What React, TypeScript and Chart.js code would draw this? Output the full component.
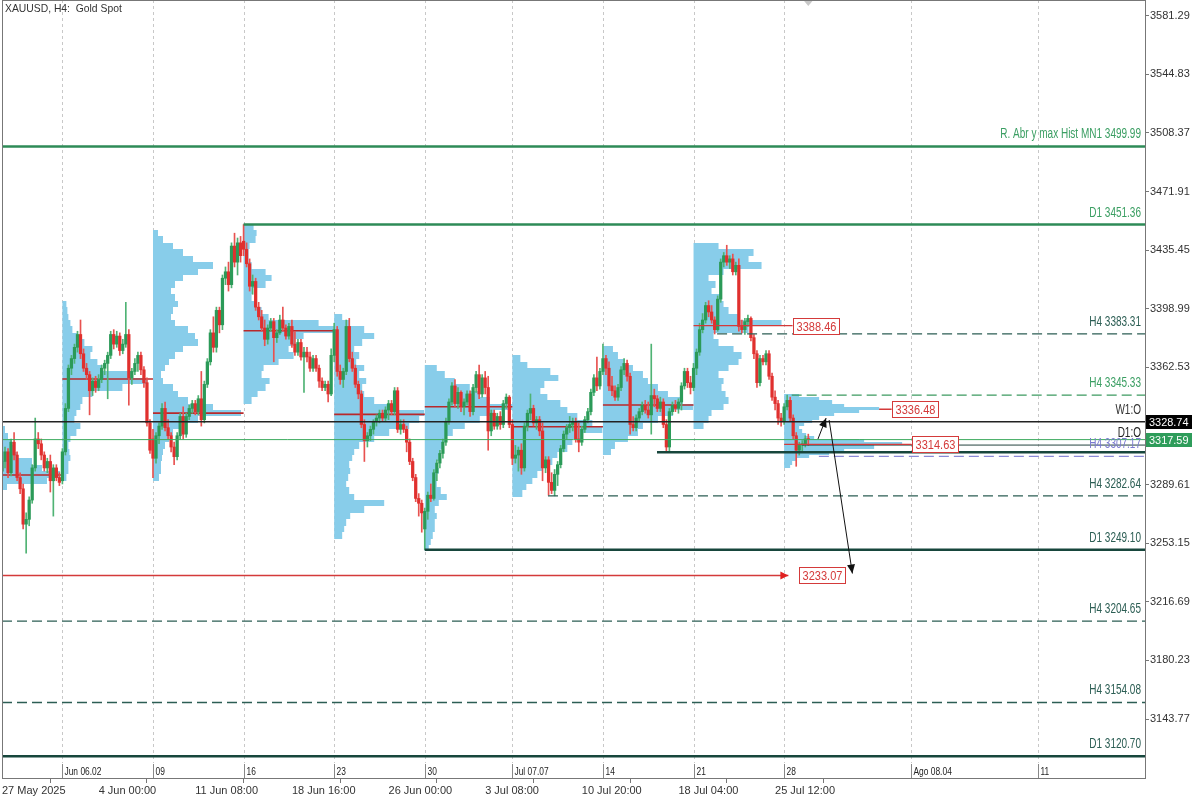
import React, { useEffect, useRef } from "react";
import { Chart, registerables } from "chart.js";

Chart.register(...registerables);

// ---------- H4 candles [open, high, low, close], grouped by trading week ----------
const WEEK1 = [
  [3298, 3306, 3292, 3304], [3304, 3313, 3300, 3310], [3310, 3312, 3294, 3297], [3297, 3318, 3295, 3316],
  [3316, 3322, 3305, 3308], [3308, 3310, 3292, 3294], [3294, 3297, 3284, 3287], [3287, 3290, 3262, 3265],
  [3265, 3272, 3247, 3268], [3268, 3282, 3264, 3280], [3280, 3302, 3278, 3300], [3300, 3331, 3298, 3318],
  [3318, 3322, 3312, 3315], [3315, 3318, 3305, 3308], [3308, 3310, 3298, 3300], [3300, 3306, 3297, 3304],
  [3304, 3308, 3285, 3292], [3292, 3302, 3270, 3300], [3300, 3302, 3292, 3294], [3294, 3297, 3289, 3291],
];
const WEEK2 = [
  [3292, 3312, 3290, 3310], [3310, 3340, 3308, 3337], [3337, 3364, 3335, 3362], [3362, 3370, 3358, 3368],
  [3368, 3377, 3365, 3375], [3375, 3385, 3372, 3383], [3383, 3392, 3368, 3371], [3371, 3374, 3360, 3362],
  [3362, 3365, 3355, 3358], [3358, 3360, 3333, 3348], [3348, 3356, 3345, 3354], [3354, 3357, 3347, 3350],
  [3350, 3358, 3348, 3355], [3355, 3364, 3353, 3362], [3362, 3367, 3358, 3365], [3365, 3372, 3343, 3370],
  [3370, 3385, 3368, 3383], [3383, 3386, 3374, 3377], [3377, 3385, 3375, 3382], [3382, 3384, 3370, 3373],
  [3373, 3380, 3371, 3377], [3377, 3403, 3375, 3383], [3383, 3386, 3339, 3356], [3356, 3362, 3352, 3360],
  [3360, 3368, 3358, 3365], [3365, 3372, 3360, 3370], [3370, 3372, 3358, 3361], [3361, 3363, 3350, 3353],
  [3353, 3356, 3326, 3328], [3328, 3330, 3309, 3311],
];
const WEEK3 = [
  [3318, 3324, 3294, 3306], [3306, 3322, 3303, 3320], [3320, 3328, 3315, 3326], [3326, 3340, 3324, 3337],
  [3337, 3341, 3323, 3325], [3325, 3330, 3318, 3320], [3320, 3322, 3310, 3313], [3313, 3316, 3302, 3307],
  [3307, 3322, 3305, 3320], [3320, 3334, 3318, 3332], [3332, 3338, 3318, 3321], [3321, 3334, 3319, 3332],
  [3332, 3339, 3330, 3337], [3337, 3342, 3334, 3340], [3340, 3342, 3333, 3335], [3335, 3345, 3333, 3343],
  [3343, 3360, 3326, 3330], [3330, 3354, 3328, 3352], [3352, 3368, 3350, 3366], [3366, 3386, 3364, 3384],
  [3384, 3394, 3372, 3375], [3375, 3400, 3372, 3398], [3398, 3400, 3384, 3389], [3389, 3420, 3386, 3418],
  [3418, 3425, 3414, 3422], [3422, 3428, 3410, 3414], [3414, 3440, 3412, 3438], [3438, 3446, 3425, 3428],
  [3428, 3443, 3420, 3440], [3440, 3444, 3428, 3432],
];
const WEEK4 = [
  [3441, 3451.36, 3432, 3436], [3436, 3440, 3425, 3427], [3427, 3430, 3410, 3413], [3413, 3420, 3408, 3416],
  [3416, 3418, 3398, 3400], [3400, 3403, 3392, 3394], [3394, 3398, 3385, 3387], [3387, 3392, 3376, 3380],
  [3380, 3389, 3377, 3387], [3387, 3393, 3385, 3391], [3391, 3393, 3366, 3381], [3381, 3386, 3378, 3384],
  [3384, 3395, 3383, 3392], [3392, 3400, 3385, 3387], [3387, 3389, 3380, 3382], [3382, 3390, 3380, 3388],
  [3388, 3392, 3375, 3377], [3377, 3385, 3370, 3372], [3372, 3380, 3370, 3378], [3378, 3380, 3367, 3369],
  [3369, 3375, 3347, 3372], [3372, 3375, 3366, 3369], [3369, 3372, 3360, 3362], [3362, 3370, 3360, 3368],
  [3368, 3370, 3360, 3362], [3362, 3364, 3350, 3354], [3354, 3356, 3348, 3350], [3350, 3354, 3348, 3352],
  [3352, 3354, 3341, 3346], [3346, 3374, 3345, 3370],
];
const WEEK5 = [
  [3370, 3390, 3366, 3386], [3386, 3388, 3357, 3360], [3360, 3364, 3352, 3355], [3355, 3362, 3350, 3360],
  [3360, 3392, 3358, 3388], [3388, 3393, 3366, 3368], [3368, 3372, 3360, 3362], [3362, 3364, 3350, 3352],
  [3352, 3354, 3343, 3346], [3346, 3348, 3325, 3327], [3327, 3330, 3304, 3317], [3317, 3322, 3313, 3320],
  [3320, 3326, 3317, 3324], [3324, 3330, 3321, 3329], [3329, 3333, 3326, 3331], [3331, 3336, 3328, 3334],
  [3334, 3336, 3329, 3331], [3331, 3338, 3329, 3336], [3336, 3342, 3330, 3340], [3340, 3342, 3333, 3335],
  [3335, 3350, 3333, 3348], [3348, 3350, 3322, 3324], [3324, 3330, 3321, 3327], [3327, 3330, 3322, 3324],
  [3324, 3326, 3310, 3316], [3316, 3318, 3302, 3304], [3304, 3306, 3292, 3294], [3294, 3296, 3279, 3281],
  [3281, 3284, 3270, 3278], [3278, 3280, 3260, 3272],
];
const WEEK6 = [
  [3262, 3275, 3249.1, 3273], [3273, 3285, 3268, 3283], [3283, 3290, 3279, 3281], [3281, 3299, 3280, 3297],
  [3297, 3305, 3292, 3303], [3303, 3311, 3300, 3309], [3309, 3318, 3306, 3316], [3316, 3331, 3314, 3329],
  [3329, 3343, 3327, 3341], [3341, 3353, 3339, 3351], [3351, 3355, 3338, 3340], [3340, 3350, 3337, 3347],
  [3347, 3348, 3335, 3338], [3338, 3343, 3333, 3341], [3341, 3348, 3339, 3346], [3346, 3348, 3332, 3335],
  [3335, 3352, 3333, 3350], [3350, 3360, 3347, 3358], [3358, 3364, 3343, 3346], [3346, 3358, 3344, 3356],
  [3356, 3360, 3346, 3350], [3350, 3357, 3311, 3323], [3323, 3336, 3320, 3334], [3334, 3336, 3324, 3326],
  [3326, 3334, 3324, 3332], [3332, 3335, 3324, 3327], [3327, 3342, 3325, 3340], [3340, 3346, 3337, 3344],
  [3344, 3345, 3325, 3327],
];
const WEEK7 = [
  [3327, 3330, 3302, 3306], [3306, 3314, 3303, 3308], [3308, 3313, 3298, 3311], [3311, 3315, 3296, 3300],
  [3300, 3328, 3298, 3326], [3326, 3336, 3323, 3334], [3334, 3346, 3330, 3337], [3337, 3339, 3326, 3328],
  [3328, 3332, 3324, 3330], [3330, 3332, 3320, 3323], [3323, 3328, 3292, 3300], [3300, 3307, 3297, 3305],
  [3305, 3307, 3283, 3291], [3291, 3297, 3284, 3286], [3286, 3299, 3282.64, 3296], [3296, 3304, 3289, 3302],
  [3302, 3314, 3300, 3312], [3312, 3323, 3310, 3321], [3321, 3327, 3318, 3325], [3325, 3332, 3322, 3327],
  [3327, 3331, 3323, 3329], [3329, 3331, 3316, 3318], [3318, 3328, 3310, 3316], [3316, 3326, 3314, 3324],
  [3324, 3332, 3322, 3330], [3330, 3337, 3328, 3335], [3335, 3349, 3333, 3347], [3347, 3358, 3345, 3356],
  [3356, 3369, 3348, 3351], [3351, 3362, 3349, 3360],
];
const WEEK8 = [
  [3360, 3377, 3358, 3368], [3368, 3370, 3358, 3362], [3362, 3366, 3348, 3351], [3351, 3357, 3345, 3348],
  [3348, 3351, 3342, 3344], [3344, 3352, 3342, 3350], [3350, 3363, 3348, 3361], [3361, 3368, 3358, 3365],
  [3365, 3367, 3354, 3357], [3357, 3359, 3321, 3327], [3327, 3332, 3323, 3325], [3325, 3333, 3323, 3331],
  [3331, 3337, 3329, 3335], [3335, 3341, 3333, 3339], [3339, 3342, 3334, 3336], [3336, 3341, 3331, 3333],
  [3333, 3377, 3321, 3345], [3345, 3349, 3338, 3343], [3343, 3345, 3335, 3337], [3337, 3344, 3335, 3341],
  [3341, 3343, 3325, 3327], [3327, 3330, 3309.7, 3313], [3313, 3337, 3310, 3335], [3335, 3341, 3333, 3339],
  [3339, 3342, 3335, 3337], [3337, 3343, 3334, 3341], [3341, 3353, 3336, 3351], [3351, 3362, 3349, 3360],
  [3360, 3362, 3350, 3353], [3353, 3357, 3346, 3350],
];
const WEEK9 = [
  [3350, 3365, 3348, 3362], [3362, 3374, 3358, 3372], [3372, 3390, 3370, 3386], [3386, 3396, 3384, 3392],
  [3392, 3403, 3390, 3401], [3401, 3404, 3394, 3397], [3397, 3401, 3390, 3392], [3392, 3394, 3383.31, 3386],
  [3386, 3407, 3385, 3405], [3405, 3430, 3403, 3428], [3428, 3434, 3425, 3432], [3432, 3438.5, 3426, 3428],
  [3428, 3432, 3424, 3430], [3430, 3433, 3420, 3422], [3422, 3428, 3420, 3426], [3426, 3430, 3385, 3388],
  [3388, 3392, 3384, 3386], [3386, 3393, 3383, 3391], [3391, 3395, 3388, 3393], [3393, 3394, 3379, 3381],
  [3381, 3383, 3368, 3371], [3371, 3373, 3350, 3353], [3353, 3370, 3351, 3368], [3368, 3370, 3364, 3366],
  [3366, 3373, 3364, 3371], [3371, 3373, 3355, 3357], [3357, 3359, 3342, 3344], [3344, 3348, 3336, 3340],
  [3340, 3342, 3327, 3331], [3331, 3334, 3326, 3329],
];
const WEEK10 = [
  [3328.74, 3340, 3327, 3338], [3338, 3345.33, 3336, 3342], [3342, 3344, 3329, 3331], [3331, 3333, 3318, 3320],
  [3320, 3322, 3301, 3311], [3311, 3316, 3308, 3314], [3314.2, 3317, 3310, 3315], [3315, 3320, 3313, 3318],
  [3318, 3321, 3314, 3317.59],
];
const WEEKS = [WEEK1, WEEK2, WEEK3, WEEK4, WEEK5, WEEK6, WEEK7, WEEK8, WEEK9, WEEK10];

// ---------- weekly volume profiles (relative volume per price bin) ----------
const PROFILE_START_BAR = [0, 20, 50, 80, 110, 140, 169, 199, 229, 259];
const PROFILE_BASE = [3286, 3292, 3292, 3340, 3256, 3248, 3282, 3308, 3324, 3300];
const PROFILE_STEP = [4, 4, 4, 4, 4, 4, 4, 4, 4, 2];
const VOL1 = [5, 45, 58, 40, 30, 15, 12, 10, 6, 3];
const VOL2 = [4, 6, 6, 8, 7, 6, 8, 14, 18, 12, 14, 18, 20, 30, 60, 85, 70, 40, 35, 28, 30, 22, 15, 10, 8, 6, 5, 4];
const VOL3 = [6, 8, 8, 9, 10, 12, 16, 20, 28, 45, 88, 60, 35, 25, 20, 10, 8, 12, 16, 22, 30, 45, 42, 35, 22, 18, 20, 25, 22, 18, 22, 30, 45, 60, 40, 30, 20, 10, 5];
const VOL4 = [8, 14, 22, 26, 18, 20, 35, 50, 45, 52, 60, 93, 75, 25, 18, 12, 8, 9, 22, 28, 22, 8, 5, 5, 6, 12, 13, 10];
const VOL5 = [8, 10, 12, 16, 30, 50, 20, 15, 12, 14, 16, 15, 18, 20, 25, 40, 55, 75, 85, 90, 60, 40, 30, 28, 32, 25, 30, 22, 25, 20, 28, 40, 30, 15, 8];
const VOL6 = [4, 6, 8, 10, 10, 12, 10, 14, 22, 16, 12, 12, 14, 12, 14, 16, 18, 22, 28, 40, 55, 70, 88, 65, 55, 45, 30, 20, 12];
const VOL7 = [10, 14, 20, 25, 30, 40, 45, 55, 60, 70, 90, 80, 65, 55, 48, 35, 28, 32, 46, 38, 15, 8];
const VOL8 = [8, 12, 25, 35, 40, 55, 70, 90, 80, 65, 55, 45, 40, 30, 22, 15, 10];
const VOL9 = [10, 15, 18, 30, 35, 32, 28, 30, 25, 35, 45, 48, 40, 25, 20, 55, 88, 45, 35, 30, 28, 18, 22, 15, 30, 68, 55, 60, 25];
const VOL10 = [6, 8, 12, 25, 45, 60, 90, 118, 80, 30, 22, 18, 15, 20, 28, 35, 50, 75, 95, 60, 48, 35, 15];
const PROFILE_VOLS = [VOL1, VOL2, VOL3, VOL4, VOL5, VOL6, VOL7, VOL8, VOL9, VOL10];
const POC_PRICE = [3295.6, 3355.3, 3334.1, 3385.3, 3333.3, 3338.0, 3325.6, 3339.1];
const POC_END_BAR = [20, 50, 80, 110, 140, 169, 199, 229];

// ---------- red price tags ----------
const TAG_PRICE = [3388.46, 3336.48, 3314.63, 3233.07];
const TAG_LINE_FROM = [229, 259, 259, 0];
const TAG_LINE_TO = [261.8, 294.6, 301.2, 260.4];
const TAG_BOX_BAR = [261.8, 294.6, 301.2, 264.0];

// ---------- horizontal levels ----------
const LEVEL_PRICE = [3499.99, 3451.36, 3383.31, 3345.33, 3328.74, 3314.2, 3317.59, 3309.7, 3307.17, 3282.64, 3249.1, 3204.65, 3154.08, 3120.7];
const LEVEL_LABEL = ["R. Abr y max Hist MN1 3499.99", "D1 3451.36", "H4 3383.31", "H4 3345.33", "W1:O", "D1:O", "", "", "H4 3307.17", "H4 3282.64", "D1 3249.10", "H4 3204.65", "H4 3154.08", "D1 3120.70"];
const LEVEL_FROM_BAR = [0, 80, 236.8, 261.5, 0, 265, 0, 216.9, 270.5, 180.8, 140, 0, 0, 0];
const LEVEL_KIND = ["mn1", "d1g", "h4t", "h4g", "w1", "d1o", "bid", "d1t", "h4b", "h4t", "d1t", "h4t", "h4t", "d1t"];

// ---------- arrows ----------
const ARROW_FROM_BAR = [270.2, 273.9];
const ARROW_FROM_PRICE = [3317.95, 3329.8];
const ARROW_TO_BAR = [272.9, 281.6];
const ARROW_TO_PRICE = [3331.0, 3234.3];

// ---------- axes ----------
const Y_TICKS = [3143.77, 3180.23, 3216.69, 3253.15, 3289.61, 3326.07, 3362.53, 3398.99, 3435.45, 3471.91, 3508.37, 3544.83, 3581.29];
const LOWER_BARS = [0, 32, 64, 96, 128, 160, 192, 224, 256];
const LOWER_LABELS = ["27 May 2025", "4 Jun 00:00", "11 Jun 08:00", "18 Jun 16:00", "26 Jun 00:00", "3 Jul 08:00", "10 Jul 20:00", "18 Jul 04:00", "25 Jul 12:00"];
const UPPER_BARS = [20, 50, 80, 110, 140, 169, 199, 229, 259, 301, 343];
const UPPER_LABELS = ["Jun 06.02", "09", "16", "23", "30", "Jul 07.07", "14", "21", "28", "Ago 08.04", "11"];
const AXIS_BOX_PRICE = [3328.74, 3317.59];

const FONT = "'Liberation Sans', Arial, sans-serif";
const STYLE: Record<string, { color: string; width: number; dash: number[]; label: string }> = {
  mn1: { color: "#2e8b57", width: 2.5, dash: [], label: "#3a9e62" },
  d1g: { color: "#2e8b57", width: 2.5, dash: [], label: "#3a9e62" },
  h4t: { color: "#2c5e54", width: 1.3, dash: [10, 5], label: "#2c5e54" },
  h4g: { color: "#3c9a60", width: 1.2, dash: [10, 5], label: "#3a9e62" },
  w1: { color: "#222222", width: 1.6, dash: [], label: "#333333" },
  d1o: { color: "#24443e", width: 1, dash: [], label: "#222222" },
  bid: { color: "#3caa5e", width: 1, dash: [], label: "" },
  d1t: { color: "#17463c", width: 2.5, dash: [], label: "#2c5e54" },
  h4b: { color: "#8a8ad6", width: 1.2, dash: [10, 5], label: "#7a7ad0" },
};

function drawText(ctx: CanvasRenderingContext2D, s: string, x: number, y: number, size: number, sx: number, color: string, align: string) {
  ctx.save();
  ctx.font = `${size}px ${FONT}`;
  ctx.fillStyle = color;
  ctx.textBaseline = "alphabetic";
  ctx.textAlign = "left";
  const w = ctx.measureText(s).width * sx;
  const left = align === "right" ? x - w : align === "center" ? x - w / 2 : x;
  ctx.translate(left, y);
  ctx.scale(sx, 1);
  ctx.fillText(s, 0, 0);
  ctx.restore();
  return w;
}

function arrowHead(ctx: CanvasRenderingContext2D, x0: number, y0: number, x1: number, y1: number, len: number, half: number) {
  const a = Math.atan2(y1 - y0, x1 - x0);
  ctx.beginPath();
  ctx.moveTo(x1, y1);
  ctx.lineTo(x1 - len * Math.cos(a) + half * Math.sin(a), y1 - len * Math.sin(a) - half * Math.cos(a));
  ctx.lineTo(x1 - len * Math.cos(a) - half * Math.sin(a), y1 - len * Math.sin(a) + half * Math.cos(a));
  ctx.closePath();
  ctx.fill();
}

export default function App() {
  const ref = useRef<HTMLCanvasElement | null>(null);

  useEffect(() => {
    document.body.style.margin = "0";
    const candles = WEEKS.flat();
    const UP = "#2b9a58";
    const DN = "#e0302e";
    const UPW = "#4fb374";
    const DNW = "#e85250";
    const PROFILE_COLOR = "#88cdea";
    const VOL_UNIT = 1 / 3.0198;

    const underPlugin = {
      id: "under",
      beforeDatasetsDraw(chart: any) {
        const { ctx, chartArea: a, scales } = chart;
        const x = scales.x, y = scales.y;
        ctx.save();
        ctx.beginPath();
        ctx.rect(a.left, a.top, a.right - a.left, a.bottom - a.top);
        ctx.clip();
        ctx.strokeStyle = "#c8c8c8";
        ctx.lineWidth = 1;
        ctx.setLineDash([3, 3]);
        UPPER_BARS.forEach((b) => {
          const px = Math.round(x.getPixelForValue(b)) + 0.5;
          ctx.beginPath();
          ctx.moveTo(px, a.top);
          ctx.lineTo(px, a.bottom - 15);
          ctx.stroke();
        });
        ctx.setLineDash([]);
        ctx.strokeStyle = "#d43a3a";
        ctx.lineWidth = 1.3;
        {
          const py = y.getPixelForValue(TAG_PRICE[1]);
          ctx.beginPath();
          ctx.moveTo(x.getPixelForValue(TAG_LINE_FROM[1]), py);
          ctx.lineTo(x.getPixelForValue(TAG_LINE_TO[1]), py);
          ctx.stroke();
        }
        ctx.fillStyle = PROFILE_COLOR;
        PROFILE_VOLS.forEach((vols, p) => {
          const start = PROFILE_START_BAR[p];
          const base = PROFILE_BASE[p];
          const step = PROFILE_STEP[p];
          const x0 = x.getPixelForValue(start);
          vols.forEach((v, j) => {
            const yTop = Math.round(y.getPixelForValue(base + (j + 1) * step));
            const yBot = Math.round(y.getPixelForValue(base + j * step));
            const x1 = x.getPixelForValue(start + v * VOL_UNIT);
            ctx.fillRect(x0, yTop, x1 - x0, yBot - yTop);
          });
        });
        ctx.strokeStyle = "#b8292b";
        ctx.lineWidth = 1.6;
        POC_PRICE.forEach((pr, k) => {
          const py = y.getPixelForValue(pr);
          ctx.beginPath();
          ctx.moveTo(x.getPixelForValue(PROFILE_START_BAR[k]), py);
          ctx.lineTo(x.getPixelForValue(POC_END_BAR[k]), py);
          ctx.stroke();
        });
        ctx.restore();
      },
    };

    const overPlugin = {
      id: "over",
      afterDatasetsDraw(chart: any) {
        const { ctx, chartArea: a, scales } = chart;
        const x = scales.x, y = scales.y;
        ctx.save();
        ctx.beginPath();
        ctx.rect(a.left, a.top, a.right - a.left, a.bottom - a.top);
        ctx.clip();
        LEVEL_PRICE.forEach((pr, k) => {
          const st = STYLE[LEVEL_KIND[k]];
          const py = y.getPixelForValue(pr);
          ctx.strokeStyle = st.color;
          ctx.lineWidth = st.width;
          ctx.setLineDash(st.dash);
          ctx.beginPath();
          ctx.moveTo(Math.max(a.left, x.getPixelForValue(LEVEL_FROM_BAR[k])), py);
          ctx.lineTo(a.right, py);
          ctx.stroke();
          ctx.setLineDash([]);
        });
        LEVEL_PRICE.forEach((pr, k) => {
          const st = STYLE[LEVEL_KIND[k]];
          if (!LEVEL_LABEL[k]) return;
          const py = y.getPixelForValue(pr);
          drawText(ctx, LEVEL_LABEL[k], a.right - 4, py - 8, 14.5, 0.69, st.label, "right");
        });
        TAG_PRICE.forEach((pr, k) => {
          const py = y.getPixelForValue(pr);
          ctx.strokeStyle = "#d43a3a";
          ctx.fillStyle = "#e02020";
          ctx.lineWidth = 1.3;
          if (k !== 1) {
            ctx.beginPath();
            ctx.moveTo(Math.max(a.left, x.getPixelForValue(TAG_LINE_FROM[k])), py);
            ctx.lineTo(x.getPixelForValue(TAG_LINE_TO[k]), py);
            ctx.stroke();
          }
          if (k === 3) {
            const tx = x.getPixelForValue(TAG_LINE_TO[k]);
            arrowHead(ctx, tx - 10, py, tx, py, 8, 4);
          }
          const bx = Math.round(x.getPixelForValue(TAG_BOX_BAR[k])) + 0.5;
          ctx.font = `12.5px ${FONT}`;
          const tw = ctx.measureText(pr.toFixed(2)).width * 0.88;
          const bw = Math.round(tw + 6);
          const by = Math.round(py - 8) + 0.5;
          ctx.fillStyle = "#ffffff";
          ctx.fillRect(bx, by, bw, 16);
          ctx.lineWidth = 1;
          ctx.strokeStyle = "#d43a3a";
          ctx.strokeRect(bx, by, bw, 16);
          drawText(ctx, pr.toFixed(2), bx + bw / 2, by + 12.5, 12.5, 0.88, "#d43a3a", "center");
        });
        ctx.strokeStyle = "#111";
        ctx.fillStyle = "#111";
        ctx.lineWidth = 1;
        ARROW_FROM_BAR.forEach((b, k) => {
          const x0 = x.getPixelForValue(b), y0 = y.getPixelForValue(ARROW_FROM_PRICE[k]);
          const x1 = x.getPixelForValue(ARROW_TO_BAR[k]), y1 = y.getPixelForValue(ARROW_TO_PRICE[k]);
          ctx.beginPath();
          ctx.moveTo(x0, y0);
          ctx.lineTo(x1, y1);
          ctx.stroke();
          arrowHead(ctx, x0, y0, x1, y1, 9, 4);
        });
        UPPER_BARS.forEach((b, k) => {
          const px = Math.round(x.getPixelForValue(b)) + 0.5;
          ctx.strokeStyle = "#888";
          ctx.lineWidth = 1;
          ctx.beginPath();
          ctx.moveTo(px, a.bottom - 14);
          ctx.lineTo(px, a.bottom);
          ctx.stroke();
          drawText(ctx, UPPER_LABELS[k], px + 2, a.bottom - 3, 10.5, 0.8, "#222", "left");
        });
        drawText(ctx, "XAUUSD, H4:  Gold Spot", 5, 12, 11.5, 0.9, "#333", "left");
        const sx = x.getPixelForValue(267);
        ctx.fillStyle = "#c8c8c8";
        ctx.beginPath();
        ctx.moveTo(sx - 5, a.top);
        ctx.lineTo(sx + 5, a.top);
        ctx.lineTo(sx, a.top + 6);
        ctx.closePath();
        ctx.fill();
        ctx.restore();
        ctx.save();
        ctx.strokeStyle = "#777";
        ctx.lineWidth = 1;
        ctx.strokeRect(a.left + 0.5, a.top + 0.5, a.right - a.left, a.bottom - a.top);
        ctx.restore();
      },
      afterDraw(chart: any) {
        const { ctx, chartArea: a, scales } = chart;
        const y = scales.y;
        const fills = ["#000000", "#2e9c5a"];
        AXIS_BOX_PRICE.forEach((pr, k) => {
          const py = y.getPixelForValue(pr);
          ctx.fillStyle = fills[k];
          ctx.fillRect(a.right + 1, Math.round(py - 7), 46, 14);
          drawText(ctx, pr.toFixed(2), a.right + 4, Math.round(py + 4), 11.5, 0.95, "#ffffff", "left");
        });
      },
    };

    const chart = new Chart(ref.current as HTMLCanvasElement, {
      type: "bar",
      data: {
        datasets: [
          {
            label: "bodies",
            data: candles.map((c, i) => ({ x: i, y: [c[0], c[3]] })) as any,
            backgroundColor: candles.map((c) => (c[3] >= c[0] ? UP : DN)),
            barThickness: 2.6,
            minBarLength: 1,
            grouped: false,
            borderWidth: 0,
            order: 0,
          } as any,
          {
            label: "wicks",
            data: candles.map((c, i) => ({ x: i, y: [c[2], c[1]] })) as any,
            backgroundColor: candles.map((c) => (c[3] >= c[0] ? UPW : DNW)),
            barThickness: 1,
            grouped: false,
            borderWidth: 0,
            order: 1,
          } as any,
        ],
      },
      options: {
        animation: false,
        responsive: true,
        maintainAspectRatio: false,
        devicePixelRatio: 1,
        events: [],
        layout: { padding: { left: 2, top: 0, right: 0, bottom: 0 }, autoPadding: false } as any,
        plugins: { legend: { display: false }, tooltip: { enabled: false } },
        scales: {
          x: {
            type: "linear",
            min: 0,
            max: 378.5,
            offset: false,
            position: "bottom",
            afterBuildTicks: (s: any) => {
              s.ticks = LOWER_BARS.map((v) => ({ value: v }));
            },
            afterFit: (s: any) => {
              s.height = 22;
              s.paddingLeft = 0;
              s.paddingRight = 0;
            },
            ticks: {
              autoSkip: false,
              maxRotation: 0,
              minRotation: 0,
              align: "start",
              padding: 1,
              color: "#333",
              font: { family: FONT, size: 11 },
              callback: (_v: any, i: number) => LOWER_LABELS[i],
            },
            grid: { drawOnChartArea: false, drawTicks: true, tickLength: 5, color: "#777" },
            border: { display: true, color: "#777" },
          } as any,
          y: {
            type: "linear",
            position: "right",
            min: 3107.1,
            max: 3591.06,
            afterBuildTicks: (s: any) => {
              s.ticks = Y_TICKS.map((v) => ({ value: v }));
            },
            afterFit: (s: any) => {
              s.width = 55;
              s.paddingTop = 0;
              s.paddingBottom = 0;
            },
            ticks: {
              padding: 1,
              color: "#333",
              font: { family: FONT, size: 11 },
              callback: (v: any) => Number(v).toFixed(2),
            },
            grid: { drawOnChartArea: false, drawTicks: true, tickLength: 4, color: "#777" },
            border: { display: true, color: "#777" },
          } as any,
        },
      },
      plugins: [underPlugin, overPlugin],
    });
    return () => chart.destroy();
  }, []);

  return (
    <div style={{ width: 1200, height: 800, position: "relative", background: "#ffffff" }}>
      <canvas ref={ref} />
    </div>
  );
}
